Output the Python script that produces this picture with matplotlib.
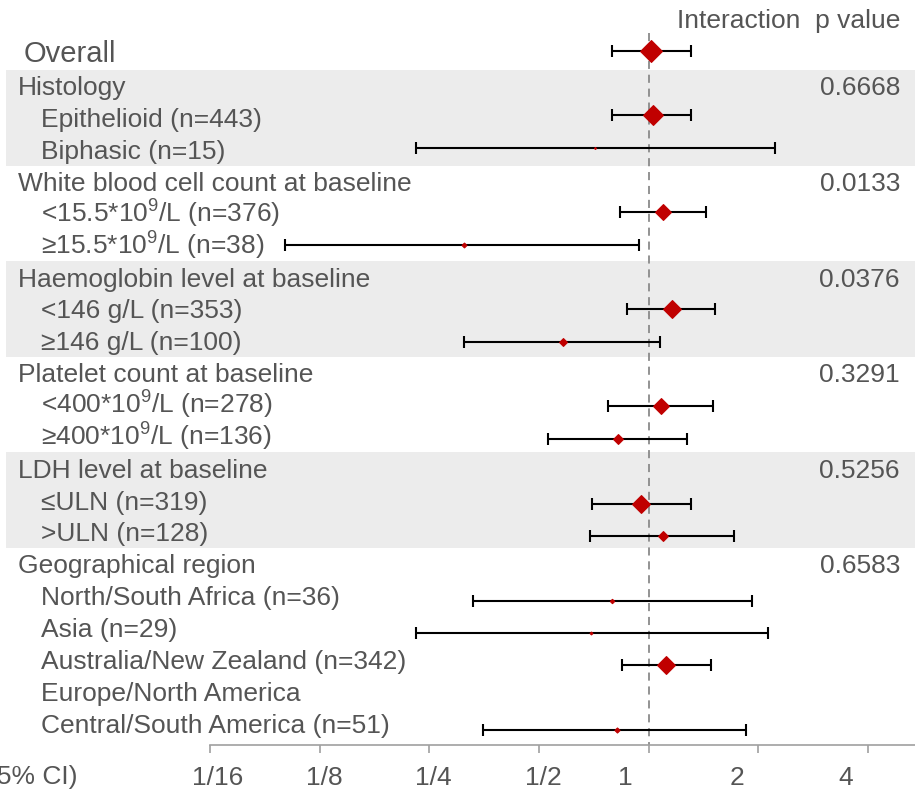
import numpy as np
import matplotlib
matplotlib.use("Agg")
import matplotlib.pyplot as plt
from matplotlib.transforms import blended_transform_factory, ScaledTranslation
from matplotlib.patches import Rectangle

plt.rcParams['font.family'] = ['Liberation Sans', 'DejaVu Sans']
plt.rcParams['mathtext.fontset'] = 'custom'
plt.rcParams['mathtext.rm'] = 'Liberation Sans'
plt.rcParams['mathtext.default'] = 'regular'

nan = np.nan

labels = [
    "Overall",
    "Histology", "Epithelioid (n=443)", "Biphasic (n=15)",
    "White blood cell count at baseline", "<15.5*10$^{9}$/L (n=376)", "≥15.5*10$^{9}$/L (n=38)",
    "Haemoglobin level at baseline", "<146 g/L (n=353)", "≥146 g/L (n=100)",
    "Platelet count at baseline", "<400*10$^{9}$/L (n=278)", "≥400*10$^{9}$/L (n=136)",
    "LDH level at baseline", "≤ULN (n=319)", ">ULN (n=128)",
    "Geographical region", "North/South Africa (n=36)", "Asia (n=29)",
    "Australia/New Zealand (n=342)", "Europe/North America", "Central/South America (n=51)",
]
row_kind = ["overall",
            "group", "sub", "sub",
            "group", "sub", "sub",
            "group", "sub", "sub",
            "group", "sub", "sub",
            "group", "sub", "sub",
            "group", "sub", "sub", "sub", "sub", "sub"]
hr = [1.015,
      nan, 1.026, 0.712,
      nan, 1.098, 0.311,
      nan, 1.159, 0.583,
      nan, 1.079, 0.825,
      nan, 0.955, 1.098,
      nan, 0.791, 0.693, 1.118, nan, 0.817]
ci_low = [0.793,
          nan, 0.793, 0.230,
          nan, 0.832, 0.1005,
          nan, 0.874, 0.311,
          nan, 0.773, 0.531,
          nan, 0.701, 0.691,
          nan, 0.330, 0.230, 0.843, nan, 0.350]
ci_high = [1.305,
           nan, 1.310, 2.216,
           nan, 1.434, 0.943,
           nan, 1.521, 1.072,
           nan, 1.499, 1.278,
           nan, 1.305, 1.720,
           nan, 1.928, 2.121, 1.483, nan, 1.848]
weight = [100,
          nan, 91, 2.0,
          nan, 60, 7.4,
          nan, 75, 18.6,
          nan, 53, 27,
          nan, 71, 25,
          nan, 6.2, 3.3, 78.6, nan, 8.0]
p_values = ["",
            "0.6668", "", "",
            "0.0133", "", "",
            "0.0376", "", "",
            "0.3291", "", "",
            "0.5256", "", "",
            "0.6583", "", "", "", "", ""]
shaded_groups = ["Histology", "Haemoglobin level at baseline", "LDH level at baseline"]
group_sizes = {"Histology": 3, "Haemoglobin level at baseline": 3, "LDH level at baseline": 3}
tick_values = [1/16, 1/8, 1/4, 1/2, 1, 2, 4]
tick_labels = ["1/16", "1/8", "1/4", "1/2", "1", "2", "4"]
header_text = "Interaction  p value"
xlabel_text = "Hazard ratio (95% CI)"

W, H, DPI = 915, 791, 100
fig = plt.figure(figsize=(W / DPI, H / DPI), dpi=DPI)

axis_px = 745.0
rect = [210 / W, (H - axis_px) / H, 1 - 210 / W, axis_px / H]

# text / band layer (its own row spacing)
txt0_px, txt_step = 54.0, 31.87
ax_t = fig.add_axes(rect)
ax_t.set_ylim((axis_px - txt0_px) / txt_step, -txt0_px / txt_step)
ax_t.set_xlim(0, 1)
ax_t.axis('off')

# plotting layer
row0_px, row_step = 50.5, 32.36
ax = fig.add_axes(rect)
ax.set_xscale('log', base=2)
ax.set_xlim(1 / 16, 2 ** ((915 - 649) / 109.5))
ybot = (axis_px - row0_px) / row_step
ax.set_ylim(ybot, -row0_px / row_step)

txt_color = '#555555'
red = '#C00000'
rows = np.arange(len(labels))

trans = blended_transform_factory(fig.transFigure, ax_t.transData)

# shaded bands
for g in shaded_groups:
    i = labels.index(g)
    n = group_sizes[g]
    ax_t.add_patch(Rectangle((6 / W, i - 0.5), 1 - 6 / W, n, transform=trans,
                             facecolor='#ECECEC', edgecolor='none', clip_on=False, zorder=0))

# reference line
ax.vlines(1, -0.55, ybot, colors='#8A8A8A',
          linestyles=(0, (4.5, 3.2)), linewidth=1.3, zorder=1, clip_on=False)

# error bars + markers
hr_a = np.array(hr); lo_a = np.array(ci_low); hi_a = np.array(ci_high)
ok = ~np.isnan(hr_a)
ax.errorbar(hr_a[ok], rows[ok], xerr=[hr_a[ok] - lo_a[ok], hi_a[ok] - hr_a[ok]],
            fmt='none', ecolor='black', elinewidth=1.5, capsize=4.4, capthick=1.5, zorder=2)
for r in rows[ok]:
    width_px = 22 * np.sqrt(weight[r] / 100)
    ms = max(width_px - 1.0, 0.5) / 1.414 / (DPI / 72)
    ax.plot(hr[r], r, marker='D', markersize=ms, color=red,
            markeredgewidth=0.75, markeredgecolor=red, zorder=3)

# labels
base_off = 9.45 / txt_step
for r, (lab, kind) in enumerate(zip(labels, row_kind)):
    if kind == "overall":
        ax_t.text(24 / W, r + 8.1 / txt_step, lab, transform=trans, fontsize=21,
                  color=txt_color, va='baseline', ha='left')
    elif kind == "group":
        ax_t.text(18 / W, r + base_off, lab, transform=trans, fontsize=19, color=txt_color,
                  va='baseline', ha='left')
    else:
        ax_t.text(41 / W, r + base_off, lab, transform=trans, fontsize=19, color=txt_color,
                  va='baseline', ha='left')
    if p_values[r]:
        ax_t.text(900 / W, r + base_off, p_values[r], transform=trans, fontsize=19,
                  color=txt_color, va='baseline', ha='right')

fig.text(900 / W, 1 - 28.3 / H, header_text, fontsize=19, color=txt_color,
         va='baseline', ha='right')
fig.text(77 / W, 1 - 777 / H, xlabel_text, fontsize=19, color=txt_color, va='center', ha='right')

# axis styling
for s in ['top', 'right', 'left']:
    ax.spines[s].set_visible(False)
ax.spines['bottom'].set_color('#A0A0A0')
ax.spines['bottom'].set_linewidth(1.2)
ax.set_yticks([])
ax.set_xticks(tick_values)
ax.set_xticklabels(tick_labels)
ax.xaxis.set_minor_locator(matplotlib.ticker.NullLocator())
ax.tick_params(axis='x', direction='out', length=5.8, width=1.2, color='#A0A0A0',
               labelsize=19, labelcolor=txt_color, pad=9.5)
label_shift_px = [8, 4.5, 4, 4.5, -23, -21, -22]
for lbl, dx in zip(ax.get_xticklabels(), label_shift_px):
    lbl.set_transform(lbl.get_transform() + ScaledTranslation(dx / DPI, 0, fig.dpi_scale_trans))
ax.patch.set_visible(False)

fig.savefig("out.png", dpi=DPI)
